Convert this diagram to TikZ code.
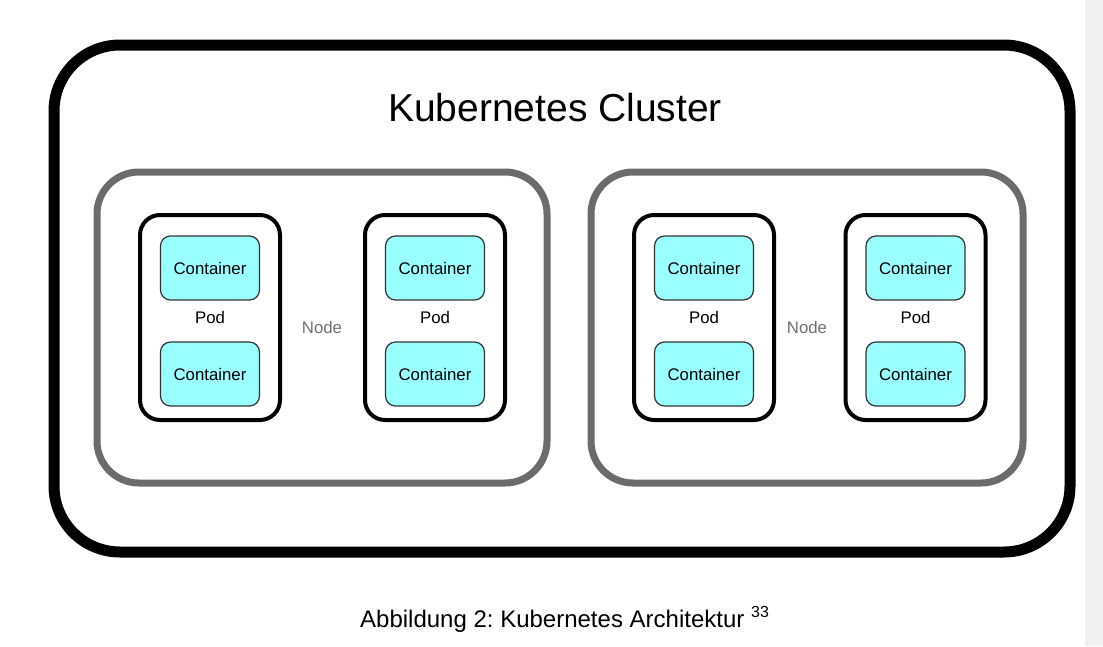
\documentclass[tikz,border=0pt]{standalone}
\usepackage{fontspec}
\setmainfont{Liberation Sans}
\definecolor{nodegrey}{HTML}{6B6B6B}
\definecolor{labelgrey}{HTML}{707070}
\definecolor{boxcyan}{HTML}{99FFFF}
\definecolor{boxline}{HTML}{333333}
\definecolor{stripgrey}{HTML}{F0F0F0}
\frenchspacing

\begin{document}
\begin{tikzpicture}[x=1pt, y=-1pt,
  clusterbox/.style={draw=black, line width=11pt, rounded corners=66pt, minimum width=1016pt, minimum height=507pt, inner sep=0pt},
  nodebox/.style={draw=nodegrey, line width=7pt, rounded corners=42pt, minimum height=311pt, inner sep=0pt},
  podbox/.style={draw=black, line width=4pt, rounded corners=20pt, minimum width=140pt, minimum height=205pt, inner sep=0pt},
  containerbox/.style={draw=boxline, line width=1.2pt, fill=boxcyan, rounded corners=10pt, minimum width=99pt, minimum height=64pt, inner sep=0pt, font=\fontsize{16.8}{18}\selectfont},
  smalltext/.style={inner sep=0pt, font=\fontsize{16.8}{18}\selectfont}]
\useasboundingbox (0,0) rectangle (1103,646);
\fill[stripgrey] (1085,0) rectangle (1103,646);

\node[clusterbox] (cluster) at (562,298.5) {};
\node[inner sep=0pt, font=\fontsize{39}{44}\selectfont] (title) at (555,108) {Kubernetes Cluster};

\node[nodebox, minimum width=450pt] (node1) at (322,327.5) {};
\node[nodebox, minimum width=432pt] (node2) at (807,327.5) {};
\node[smalltext, text=labelgrey] (node1label) at (322,327) {Node};
\node[smalltext, text=labelgrey] (node2label) at (807,327) {Node};

\node[podbox] (pod1) at (210,317.5) {};
\node[podbox] (pod2) at (435,317.5) {};
\node[podbox] (pod3) at (704,317.5) {};
\node[podbox] (pod4) at (915.5,317.5) {};

\node[containerbox] (c1a) at (210,268) {Container};
\node[containerbox] (c1b) at (210,374) {Container};
\node[containerbox] (c2a) at (435,268) {Container};
\node[containerbox] (c2b) at (435,374) {Container};
\node[containerbox] (c3a) at (704,268) {Container};
\node[containerbox] (c3b) at (704,374) {Container};
\node[containerbox] (c4a) at (915.5,268) {Container};
\node[containerbox] (c4b) at (915.5,374) {Container};

\node[smalltext] (pod1label) at (210,317) {Pod};
\node[smalltext] (pod2label) at (435,317) {Pod};
\node[smalltext] (pod3label) at (704,317) {Pod};
\node[smalltext] (pod4label) at (915.5,317) {Pod};

\node[inner sep=0pt, anchor=base west, font=\fontsize{24}{28}\selectfont] (caption) at (360,627)
  {Abbildung 2: Kubernetes Architektur \raisebox{10pt}{\fontsize{16}{18}\selectfont 33}};
\end{tikzpicture}
\end{document}
